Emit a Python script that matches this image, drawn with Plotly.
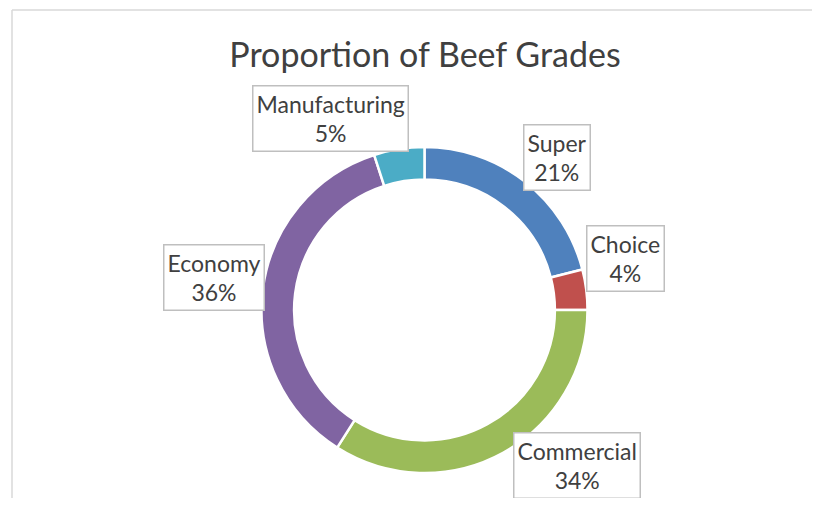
import plotly.graph_objects as go

# reference canvas size; the page body adds an 8px margin, so the figure is
# made a little smaller and every layout position is shifted by that margin
W, H = 820, 506
OFF = 8
FW, FH = W - 2 * OFF, H - 2 * OFF

grades = ['Super', 'Choice', 'Commercial', 'Economy', 'Manufacturing']
shares = [21, 4, 34, 36, 5]
colors = ['#4F81BD', '#C0504D', '#9BBB59', '#8064A2', '#4BACC6']

# label box centres in screen pixels (layout only)
label_px = {
    'Super': (557, 157),
    'Choice': (625, 258),
    'Commercial': (577, 465),
    'Economy': (214, 277),
    'Manufacturing': (330, 118),
}


def px(x):
    return (x - OFF) / FW


def py(y):
    return 1 - (y - OFF) / FH


cx, cy, r = 424.5, 310, 163

fig = go.Figure()
fig.add_trace(go.Pie(
    labels=grades,
    values=shares,
    hole=0.8,
    sort=False,
    direction='clockwise',
    rotation=0,
    textinfo='none',
    marker=dict(colors=colors, line=dict(color='white', width=2.5)),
    domain=dict(x=[px(cx - r), px(cx + r)], y=[py(cy + r), py(cy - r)]),
    showlegend=False,
))

total = sum(shares)
for g, v in zip(grades, shares):
    x, y = label_px[g]
    fig.add_annotation(
        x=px(x), y=py(y), xref='paper', yref='paper',
        xanchor='center', yanchor='middle',
        text=f'{g}<br>{round(v / total * 100)}%',
        showarrow=False,
        align='center',
        font=dict(family='Lato', size=23, color='#404040'),
        bgcolor='white',
        bordercolor='#bfbfbf',
        borderwidth=1.5,
        borderpad=3,
    )

# chart area border: only the top and left edges are in view
border = dict(color='#d9d9d9', width=1.5)
fig.add_shape(type='line', xref='paper', yref='paper',
              x0=px(12), x1=1.05, y0=py(10), y1=py(10), line=border, layer='below')
fig.add_shape(type='line', xref='paper', yref='paper',
              x0=px(12), x1=px(12), y0=py(10), y1=-0.05, line=border, layer='below')

fig.update_layout(
    width=FW, height=FH,
    margin=dict(l=0, r=0, t=0, b=0),
    paper_bgcolor='white',
    plot_bgcolor='white',
    title=dict(text='Proportion of Beef Grades', x=px(425), xanchor='center',
               y=py(55), yanchor='middle',
               font=dict(family='Lato', size=34, color='#404040')),
)

fig.write_html('out.html')
